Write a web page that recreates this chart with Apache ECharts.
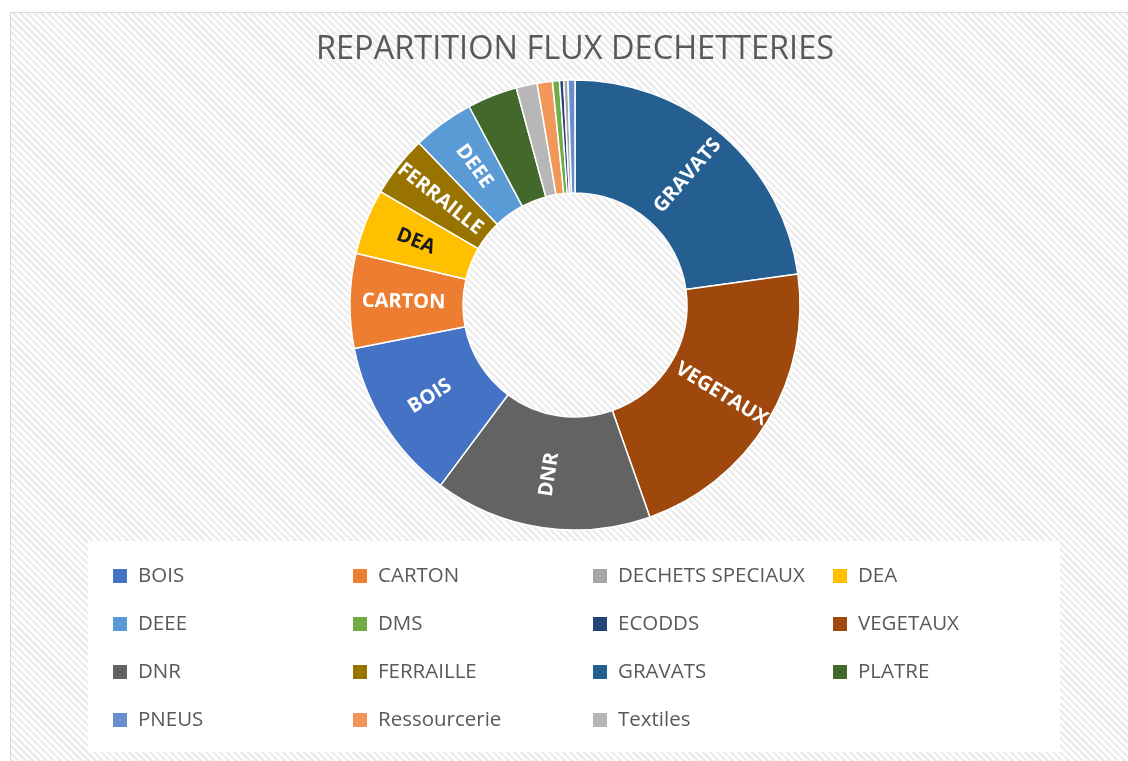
<!DOCTYPE html>
<html>
<head>
<meta charset="utf-8">
<title>REPARTITION FLUX DECHETTERIES</title>
<script src="https://cdn.jsdelivr.net/npm/echarts@6/dist/echarts.min.js"></script>
<style>
  html, body { margin: 0; padding: 0; background: #fff; }
  #chart { width: 1128px; height: 761px; }
</style>
</head>
<body>
<div id="chart"></div>
<script>
// parts de l'anneau, dans l'ordre horaire depuis midi (en %)
var flux = ['GRAVATS', 'VEGETAUX', 'DNR', 'BOIS', 'CARTON', 'DEA', 'FERRAILLE', 'DEEE',
  'PLATRE', 'Textiles', 'Ressourcerie', 'DMS', 'ECODDS', 'DECHETS SPECIAUX', 'PNEUS'];
var parts = [22.8, 21.8, 15.6, 11.7, 6.8, 4.7, 4.4, 4.4, 3.6, 1.5, 1.1, 0.5, 0.3, 0.3, 0.5];

// ordre de la legende
var legende = ['BOIS', 'CARTON', 'DECHETS SPECIAUX', 'DEA', 'DEEE', 'DMS', 'ECODDS', 'VEGETAUX',
  'DNR', 'FERRAILLE', 'GRAVATS', 'PLATRE', 'PNEUS', 'Ressourcerie', 'Textiles'];

// parts qui portent une etiquette
var etiquettes = ['GRAVATS', 'VEGETAUX', 'DNR', 'BOIS', 'CARTON', 'DEA', 'FERRAILLE', 'DEEE'];

var couleurs = {
  'BOIS': '#4472C4',
  'CARTON': '#ED7D31',
  'DECHETS SPECIAUX': '#A5A5A5',
  'DEA': '#FFC000',
  'DEEE': '#5B9BD5',
  'DMS': '#70AD47',
  'ECODDS': '#264478',
  'VEGETAUX': '#9E480E',
  'DNR': '#636363',
  'FERRAILLE': '#997300',
  'GRAVATS': '#255E91',
  'PLATRE': '#43682B',
  'PNEUS': '#698ED0',
  'Ressourcerie': '#F1975A',
  'Textiles': '#B7B7B7'
};

var police = '"Open Sans", "Noto Sans", sans-serif';

// fond hachure
var motif = document.createElement('canvas');
motif.width = 7;
motif.height = 7;
var ctx = motif.getContext('2d');
ctx.fillStyle = '#ffffff';
ctx.fillRect(0, 0, 7, 7);
ctx.strokeStyle = '#ececec';
ctx.lineWidth = 2.5;
ctx.beginPath();
for (var k = -1; k <= 1; k++) {
  ctx.moveTo(-1, k * 7 - 1);
  ctx.lineTo(8, k * 7 + 8);
}
ctx.stroke();

var donnees = flux.map(function(nom, i) {
  var montre = etiquettes.indexOf(nom) >= 0;
  return {
    name: nom,
    value: parts[i],
    itemStyle: { color: couleurs[nom] },
    label: {
      show: montre,
      color: nom == 'DEA' ? '#1a1a1a' : '#ffffff'
    }
  };
});

// legende en 4 colonnes
var colonnes = [[], [], [], []];
legende.forEach(function(nom, i) {
  colonnes[i % 4].push(nom);
});

var legendes = colonnes.map(function(col, c) {
  return {
    data: col,
    orient: 'vertical',
    left: 106 + c * 240,
    top: 559,
    icon: 'rect',
    itemWidth: 16,
    itemHeight: 16,
    itemGap: 24,
    selectedMode: false,
    textStyle: {
      color: '#595959',
      fontSize: 20.5,
      fontFamily: police,
      lineHeight: 24,
      padding: [0, 0, 0, 5]
    }
  };
});

var myChart = echarts.init(document.getElementById('chart'));

myChart.setOption({
  backgroundColor: '#ffffff',
  animation: false,
  graphic: [
    {
      type: 'rect',
      z: -10,
      shape: { x: 10.5, y: 12.5, width: 1130, height: 760 },
      style: { fill: { image: motif, repeat: 'repeat' }, stroke: '#d9d9d9', lineWidth: 1 }
    },
    {
      type: 'rect',
      z: -9,
      shape: { x: 88, y: 541, width: 972, height: 211 },
      style: { fill: '#ffffff' }
    },
    {
      type: 'text',
      x: 575,
      y: 50,
      style: {
        text: 'REPARTITION FLUX DECHETTERIES',
        align: 'center',
        verticalAlign: 'middle',
        fill: '#595959',
        fontSize: 32.5,
        fontFamily: police
      }
    }
  ],
  legend: legendes,
  series: [
    {
      type: 'pie',
      center: [575, 305],
      radius: [112, 225],
      startAngle: 90,
      clockwise: true,
      avoidLabelOverlap: false,
      label: {
        position: 'inside',
        rotate: 'radial',
        fontSize: 20,
        fontWeight: 'bold',
        fontFamily: police
      },
      labelLine: { show: false },
      itemStyle: { borderColor: '#ffffff', borderWidth: 1.5 },
      emphasis: { scale: false },
      data: donnees
    }
  ]
});
</script>
</body>
</html>
